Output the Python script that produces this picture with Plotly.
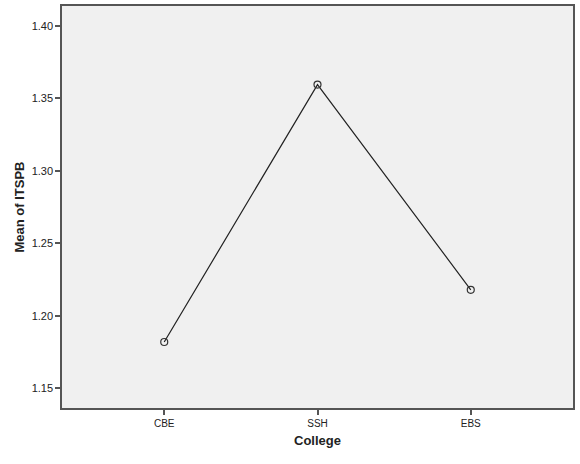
import plotly.graph_objects as go

colleges = ["CBE", "SSH", "EBS"]
means = [1.182, 1.3595, 1.218]
y_ticks = [1.15, 1.20, 1.25, 1.30, 1.35, 1.40]
y_tick_labels = ["1.15", "1.20", "1.25", "1.30", "1.35", "1.40"]

fig = go.Figure()
fig.add_trace(go.Scatter(
    x=[0, 1, 2], y=means, mode="lines+markers",
    line=dict(color="#222222", width=1.2),
    marker=dict(symbol="circle-open", size=7, color="#333333", line=dict(width=1.2)),
    showlegend=False,
))

fig.update_layout(
    width=580, height=464,
    margin=dict(l=62, r=7, t=4, b=56),
    paper_bgcolor="white", plot_bgcolor="#f0f0f0",
    font=dict(family="Liberation Sans, Arial, sans-serif", size=11, color="#222222"),
)
fig.update_xaxes(
    range=[-0.667, 2.667], tickvals=[0, 1, 2], ticktext=colleges,
    showgrid=False, zeroline=False,
    showline=True, linecolor="#555555", linewidth=1.5, mirror=True,
    ticks="outside", ticklen=5, tickcolor="#555555", tickwidth=1.5,
    tickfont=dict(size=10),
    title=dict(text="<b>College</b>", font=dict(size=13), standoff=8),
)
fig.update_yaxes(
    range=[1.1365, 1.4137], tickvals=y_ticks, ticktext=y_tick_labels,
    showgrid=False, zeroline=False,
    showline=True, linecolor="#555555", linewidth=1.5, mirror=True,
    ticks="outside", ticklen=5, tickcolor="#555555", tickwidth=1.5,
    tickfont=dict(size=11),
    title=dict(text="<b>Mean of ITSPB</b>", font=dict(size=13), standoff=4),
)

fig.write_html("out.html", config={"displayModeBar": False},
               post_script="document.body.style.margin='0';document.body.style.padding='0';")
